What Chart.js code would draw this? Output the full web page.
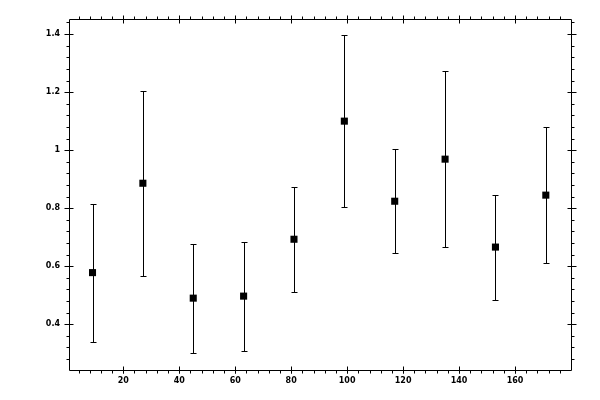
<!DOCTYPE html>
<html>
<head>
<meta charset="utf-8">
<script src="https://cdn.jsdelivr.net/npm/chart.js@4/dist/chart.umd.min.js"></script>
<style>
html,body{margin:0;padding:0;background:#fff;}
#wrap{width:600px;height:400px;}
</style>
</head>
<body>
<div id="wrap"><canvas id="c" width="600" height="400"></canvas></div>
<script>
const xValues = [9, 27, 45, 63, 81, 99, 117, 135, 153, 171];
const yValues = [0.578, 0.886, 0.490, 0.497, 0.693, 1.100, 0.824, 0.969, 0.666, 0.845];
const yErrors = [0.238, 0.319, 0.188, 0.188, 0.181, 0.297, 0.179, 0.303, 0.181, 0.234];
const xTicks = [20, 40, 60, 80, 100, 120, 140, 160];
const xTickLabels = ["20", "40", "60", "80", "100", "120", "140", "160"];
const yTicks = [0.4, 0.6, 0.8, 1.0, 1.2, 1.4];
const yTickLabels = ["0.4", "0.6", "0.8", "1", "1.2", "1.4"];
const xRange = [0.6, 180];
const yRange = [0.2424, 1.452];
const xMinorStep = 4;
const yMinorStep = 0.04;

const points = xValues.map((x, i) => ({x: x, y: yValues[i]}));

const framePlugin = {
  id: 'frame',
  beforeDatasetsDraw(chart) {
    const ctx = chart.ctx, xs = chart.scales.x, ys = chart.scales.y;
    ctx.save();
    ctx.strokeStyle = '#000';
    ctx.lineWidth = 1;
    ctx.beginPath();
    for (let i = 0; i < xValues.length; i++) {
      const px = Math.round(xs.getPixelForValue(xValues[i])) + 0.5;
      const yt = Math.round(ys.getPixelForValue(yValues[i] + yErrors[i])) + 0.5;
      const yb = Math.round(ys.getPixelForValue(yValues[i] - yErrors[i])) + 0.5;
      ctx.moveTo(px, yt); ctx.lineTo(px, yb);
      ctx.moveTo(px - 3, yt); ctx.lineTo(px + 3, yt);
      ctx.moveTo(px - 3, yb); ctx.lineTo(px + 3, yb);
    }
    ctx.stroke();
    ctx.restore();
  },
  afterDraw(chart) {
    const ctx = chart.ctx, a = chart.chartArea, xs = chart.scales.x, ys = chart.scales.y;
    const L = Math.round(a.left) + 0.5, R = Math.round(a.right) + 0.5;
    const T = Math.round(a.top) + 0.5, B = Math.round(a.bottom) + 0.5;
    ctx.save();
    ctx.strokeStyle = '#000';
    ctx.lineWidth = 1;
    ctx.beginPath();
    ctx.rect(L, T, R - L, B - T);
    // x minor
    for (let v = xMinorStep; v < xRange[1]; v += xMinorStep) {
      const px = Math.round(xs.getPixelForValue(v)) + 0.5;
      if (px <= L || px >= R) continue;
      ctx.moveTo(px, B); ctx.lineTo(px, B + 3);
      ctx.moveTo(px, T); ctx.lineTo(px, T - 3);
    }
    xTicks.forEach(v => {
      const px = Math.round(xs.getPixelForValue(v)) + 0.5;
      ctx.moveTo(px, B - 4); ctx.lineTo(px, B + 3);
      ctx.moveTo(px, T + 4); ctx.lineTo(px, T - 4);
    });
    for (let k = 0; ; k++) {
      const v = 0.28 + k * yMinorStep;
      if (v >= yRange[1]) break;
      const py = Math.round(ys.getPixelForValue(v)) + 0.5;
      if (py <= T || py >= B) continue;
      ctx.moveTo(L, py); ctx.lineTo(L - 3, py);
      ctx.moveTo(R, py); ctx.lineTo(R + 3, py);
    }
    yTicks.forEach(v => {
      const py = Math.round(ys.getPixelForValue(v)) + 0.5;
      ctx.moveTo(L - 5, py); ctx.lineTo(L + 4, py);
      ctx.moveTo(R - 4, py); ctx.lineTo(R + 5, py);
    });
    ctx.stroke();
    ctx.restore();
  }
};

Chart.defaults.font.family = "'DejaVu Sans', sans-serif";
Chart.defaults.font.size = 8;
Chart.defaults.color = '#000';

new Chart(document.getElementById('c'), {
  type: 'scatter',
  data: {
    datasets: [{
      data: points,
      pointStyle: 'rect',
      pointRadius: 5,
      pointHoverRadius: 5,
      pointBorderWidth: 0,
      backgroundColor: '#000',
      borderColor: '#000'
    }]
  },
  options: {
    responsive: false,
    animation: false,
    devicePixelRatio: 1,
    layout: {padding: {left: 0, right: 29, top: 19, bottom: 0}},
    plugins: {legend: {display: false}, tooltip: {enabled: false}},
    scales: {
      x: {
        type: 'linear',
        min: xRange[0], max: xRange[1],
        grid: {display: false, drawTicks: false},
        border: {display: false},
        afterBuildTicks: s => { s.ticks = xTicks.map(v => ({value: v})); },
        afterFit: s => { s.height = 30; },
        ticks: {
          padding: 6,
          maxRotation: 0,
          autoSkip: false,
          font: {size: 8, weight: 'bold'},
          callback: (v) => { const i = xTicks.indexOf(v); return i >= 0 ? xTickLabels[i] : ''; }
        }
      },
      y: {
        type: 'linear',
        min: yRange[0], max: yRange[1],
        grid: {display: false, drawTicks: false},
        border: {display: false},
        afterBuildTicks: s => { s.ticks = yTicks.map(v => ({value: v})); },
        afterFit: s => { s.width = 69; },
        ticks: {
          padding: 9,
          autoSkip: false,
          font: {size: 8, weight: 'bold'},
          callback: (v) => { const i = yTicks.findIndex(t => Math.abs(t - v) < 1e-9); return i >= 0 ? yTickLabels[i] : ''; }
        }
      }
    }
  },
  plugins: [framePlugin]
});
</script>
</body>
</html>
